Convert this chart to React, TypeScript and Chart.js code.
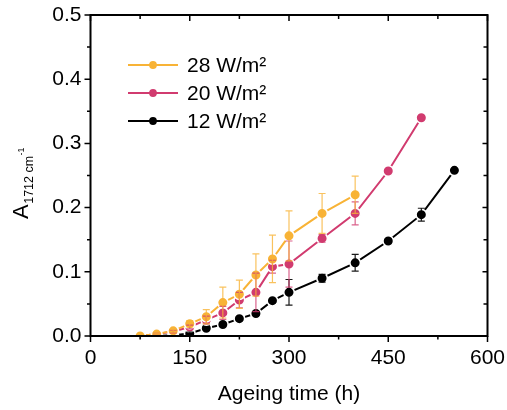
import React, { useEffect, useRef } from "react";
import { Chart, registerables } from "chart.js";

Chart.register(...registerables);

const FONT = '"Liberation Sans", Arial, sans-serif';

const seriesNames = ["28 W/m²", "20 W/m²", "12 W/m²"];
const seriesColors = ["#F8B336", "#D13B6F", "#000000"];
const errColors = ["rgba(248,179,54,0.8)", "rgba(209,59,111,0.8)", "rgba(0,0,0,0.9)"];

const time28 = [75, 100, 125, 150, 175, 200, 225, 250, 275, 300, 350, 400];
const a28 = [0.0, 0.003, 0.008, 0.019, 0.03, 0.052, 0.065, 0.095, 0.12, 0.156, 0.191, 0.22];
const err28 = [0, 0.001, 0.002, 0.005, 0.011, 0.024, 0.022, 0.033, 0.037, 0.039, 0.031, 0.029];

const time20 = [75, 100, 125, 150, 175, 200, 225, 250, 275, 300, 350, 400, 450, 500];
const a20 = [0.0, 0.003, 0.007, 0.014, 0.025, 0.036, 0.056, 0.068, 0.108, 0.112, 0.152, 0.191, 0.257, 0.34];
const err20 = [0, 0.001, 0.002, 0.003, 0.006, 0.01, 0.012, 0.03, 0.01, 0.036, 0.006, 0.018, 0, 0];

const time12 = [100, 125, 150, 175, 200, 225, 250, 275, 300, 350, 400, 450, 500, 550];
const a12 = [0.0, 0.001, 0.004, 0.012, 0.018, 0.027, 0.035, 0.055, 0.068, 0.09, 0.114, 0.148, 0.189, 0.258];
const err12 = [0, 0, 0.002, 0.002, 0.002, 0.003, 0.003, 0.003, 0.02, 0.006, 0.013, 0.003, 0.01, 0];

const xTicks = [0, 150, 300, 450, 600];
const yTicks = [0, 0.1, 0.2, 0.3, 0.4, 0.5];

const times = [time28, time20, time12];
const values = [a28, a20, a12];
const errors = [err28, err20, err12];

export default function App() {
  const ref = useRef<HTMLCanvasElement | null>(null);

  useEffect(() => {
    if (!ref.current) return;

    const datasets = values.map((vals, i) => ({
      label: seriesNames[i],
      data: vals.map((v, j) => ({ x: times[i][j], y: v })),
      borderColor: seriesColors[i],
      backgroundColor: seriesColors[i],
      borderWidth: 2,
      pointRadius: 5.3,
      pointBorderWidth: 1.6,
      pointBorderColor: "#ffffff",
      pointBackgroundColor: seriesColors[i],
      tension: 0,
      fill: false,
    }));

    const framePlugin = {
      id: "frame",
      afterDatasetsDraw(chart: any) {
        const ctx = chart.ctx;
        const ys = chart.scales.y;
        ctx.save();
        for (let i = values.length - 1; i >= 0; i--) {
          const meta = chart.getDatasetMeta(i);
          ctx.strokeStyle = errColors[i];
          ctx.lineWidth = 1.2;
          values[i].forEach((v, j) => {
            const e = errors[i][j];
            if (!e) return;
            const x = meta.data[j].x;
            const y1 = ys.getPixelForValue(v + e);
            const y2 = ys.getPixelForValue(v - e);
            ctx.beginPath();
            ctx.moveTo(x, y1);
            ctx.lineTo(x, y2);
            ctx.moveTo(x - 3.5, y1);
            ctx.lineTo(x + 3.5, y1);
            ctx.moveTo(x - 3.5, y2);
            ctx.lineTo(x + 3.5, y2);
            ctx.stroke();
          });
        }
        ctx.restore();
      },
      afterDraw(chart: any) {
        const ctx = chart.ctx;
        const a = chart.chartArea;
        const xs = chart.scales.x;
        const ys = chart.scales.y;
        ctx.save();
        ctx.strokeStyle = "#000";
        ctx.lineWidth = 2;
        ctx.strokeRect(a.left, a.top, a.right - a.left, a.bottom - a.top);
        ctx.lineWidth = 1.5;
        ctx.beginPath();
        for (let k = 0; k <= 10; k++) {
          const v = k * 0.05;
          const y = ys.getPixelForValue(v);
          const major = k % 2 === 0;
          ctx.moveTo(a.left, y);
          ctx.lineTo(a.left - (major ? 6 : 3.5), y);
          ctx.moveTo(a.right, y);
          ctx.lineTo(a.right - (major ? 5 : 4), y);
        }
        for (let k = 0; k <= 8; k++) {
          const v = k * 75;
          const x = xs.getPixelForValue(v);
          const major = k % 2 === 0;
          ctx.moveTo(x, a.bottom);
          ctx.lineTo(x, a.bottom + (major ? 6 : 3.5));
          ctx.moveTo(x, a.top);
          ctx.lineTo(x, a.top + (major ? 6 : 4));
        }
        ctx.stroke();

        // legend
        const rows = [65, 93, 121];
        ctx.font = `21px ${FONT}`;
        ctx.textBaseline = "middle";
        ctx.textAlign = "left";
        seriesNames.forEach((name, i) => {
          const y = rows[i];
          ctx.strokeStyle = seriesColors[i];
          ctx.lineWidth = 2;
          ctx.beginPath();
          ctx.moveTo(128, y);
          ctx.lineTo(178, y);
          ctx.stroke();
          ctx.fillStyle = seriesColors[i];
          ctx.beginPath();
          ctx.arc(153, y, 3.9, 0, Math.PI * 2);
          ctx.fill();
          ctx.fillStyle = "#000";
          ctx.fillText(name, 187, y + 1);
        });

        // x title
        ctx.textAlign = "center";
        ctx.textBaseline = "alphabetic";
        ctx.font = `21px ${FONT}`;
        ctx.fillText("Ageing time (h)", 289, 400);

        // y title
        ctx.save();
        ctx.translate(28, 219);
        ctx.rotate(-Math.PI / 2);
        ctx.textAlign = "left";
        ctx.font = `22px ${FONT}`;
        ctx.fillText("A", 0, 0);
        let x0 = ctx.measureText("A").width + 0.5;
        ctx.font = `12.5px ${FONT}`;
        ctx.fillText("1712 cm", x0, 4.5);
        x0 += ctx.measureText("1712 cm").width + 0.5;
        ctx.font = `9px ${FONT}`;
        ctx.fillText("-1", x0, -4);
        ctx.restore();

        ctx.restore();
      },
    };

    const chart = new Chart(ref.current, {
      type: "line",
      data: { datasets },
      options: {
        animation: false,
        responsive: false,
        layout: { padding: { top: 15, right: 19.5, left: 0, bottom: 0 } },
        plugins: { legend: { display: false }, tooltip: { enabled: false } },
        scales: {
          x: {
            type: "linear",
            min: 0,
            max: 600,
            afterFit: (s: any) => {
              s.height = 74;
              s.paddingLeft = 0;
              s.paddingRight = 0;
              s.paddingTop = 0;
              s.paddingBottom = 0;
            },
            afterBuildTicks: (s: any) => {
              s.ticks = xTicks.map((v) => ({ value: v }));
            },
            grid: { display: false, drawTicks: false },
            border: { display: false },
            ticks: {
              color: "#000",
              font: { size: 21, family: FONT },
              padding: 10,
              maxRotation: 0,
              callback: (v: any) => String(v),
            },
          },
          y: {
            type: "linear",
            min: 0,
            max: 0.5,
            afterFit: (s: any) => {
              s.width = 90.5;
              s.paddingLeft = 0;
              s.paddingRight = 0;
              s.paddingTop = 0;
              s.paddingBottom = 0;
            },
            afterBuildTicks: (s: any) => {
              s.ticks = yTicks.map((v) => ({ value: v }));
            },
            grid: { display: false, drawTicks: false },
            border: { display: false },
            ticks: {
              color: "#000",
              font: { size: 21, family: FONT },
              padding: 9,
              callback: (v: any) => Number(v).toFixed(1),
            },
          },
        },
      },
      plugins: [framePlugin],
    });

    return () => chart.destroy();
  }, []);

  return (
    <div style={{ position: "absolute", left: 0, top: 0, width: 507, height: 410, background: "#fff" }}>
      <canvas ref={ref} width={507} height={410} />
    </div>
  );
}
